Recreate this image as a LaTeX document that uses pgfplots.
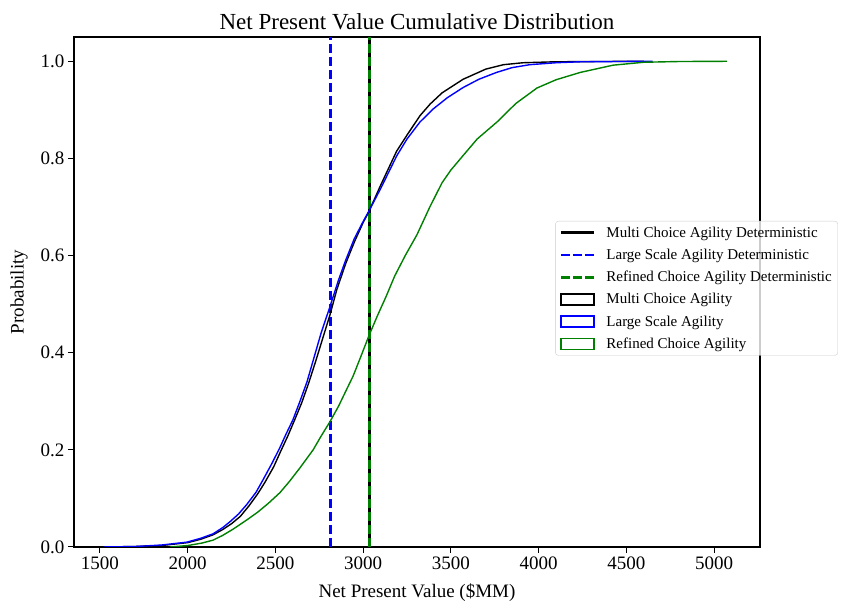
\documentclass[border=0pt]{standalone}
\usepackage{pgfplots}
\pgfplotsset{compat=1.18}
\usepackage{fontspec}
\setmainfont{Liberation Serif}
\definecolor{mplgreen}{rgb}{0,0.5,0}
\pgfplotsset{
  linelegend/.style={legend image code/.code={\draw[##1, sharp corners] (0pt,0pt) -- (33pt,0pt);}},
  dashlegend/.style={legend image code/.code={\draw[##1, sharp corners, dash pattern=on 9pt off 3pt] (0pt,0pt) -- (33pt,0pt);}},
  boxlegend/.style={legend image code/.code={\draw[##1, sharp corners, line width=1.4pt, fill=none] (0pt,-5.5pt) rectangle (33pt,5.5pt);}},
}
\begin{document}
\begin{tikzpicture}[x=1pt,y=1pt]
\path (0,0) rectangle (841,607);
\begin{axis}[
  at={(74pt,60pt)}, anchor=south west,
  width=686pt, height=510pt, scale only axis,
  xmin=1352, xmax=5262, ymin=0, ymax=1.05,
  xtick={1500,2000,...,5000},
  ytick={0,0.2,...,1.0},
  /pgf/number format/assume math mode=true,
  xticklabel style={/pgf/number format/.cd,fixed,1000 sep={}},
  yticklabel style={/pgf/number format/.cd,fixed,fixed zerofill,precision=1},
  ticklabel style={font=\fontsize{19}{22}\selectfont},
  tick align=outside, tick pos=left,
  major tick length=6pt,
  tick style={line width=1pt,black},
  axis line style={line width=1.2pt},
  title={Net Present Value Cumulative Distribution},
  title style={font=\fontsize{23}{26}\selectfont, yshift=-2pt},
  xlabel={Net Present Value (\$MM)},
  ylabel={Probability},
  label style={font=\fontsize{19}{22}\selectfont},
  xlabel style={yshift=-8pt},
  ylabel style={yshift=6pt},
  legend style={at={(rel axis cs:1.1137,0.6392)}, anchor=north east,
    font=\fontsize{15}{17}\selectfont, draw=black!20, rounded corners=3pt,
    fill=white, fill opacity=0.8, text opacity=1, draw opacity=1,
    row sep=6.3pt, inner xsep=4pt, inner ysep=3.5pt,
    /tikz/every odd column/.append style={column sep=9pt}},
  legend cell align=left,
  clip=true,
]
\addplot[black, line width=3pt, linelegend]
  coordinates {(3035,0) (3035,1.05)};
\addlegendentry{Multi Choice Agility Deterministic}
\addplot[blue, line width=2.4pt, dash pattern=on 9pt off 4pt, dashlegend]
  coordinates {(2815,0) (2815,1.05)};
\addlegendentry{Large Scale Agility Deterministic}
\addplot[mplgreen, line width=3pt, dash pattern=on 9pt off 4pt, dashlegend]
  coordinates {(3035,0) (3035,1.05)};
\addlegendentry{Refined Choice Agility Deterministic}
\addplot[black, line width=1.4pt, sharp plot, boxlegend]
  coordinates {
(1530,0) (1700,0.001) (1850,0.003) (2000,0.009) (2075,0.016) (2144,0.025)
(2200,0.036) (2250,0.048) (2300,0.063) (2350,0.085) (2400,0.110) (2440,0.133)
(2490,0.165) (2530,0.197) (2570,0.228) (2610,0.262) (2650,0.297) (2690,0.338)
(2730,0.383) (2770,0.430) (2811,0.478) (2850,0.530) (2900,0.583) (2950,0.628)
(3000,0.668) (3032,0.690) (3100,0.745) (3191,0.815) (3250,0.848) (3324,0.888)
(3382,0.912) (3450,0.935) (3570,0.963) (3700,0.984) (3800,0.993) (3912,0.997)
(4100,0.999) (4600,1.0)};
\addlegendentry{Multi Choice Agility}
\addplot[blue, line width=1.4pt, sharp plot, boxlegend]
  coordinates {
(1520,0) (1700,0.001) (1850,0.004) (1996,0.010) (2075,0.018) (2144,0.027)
(2200,0.040) (2241,0.052) (2290,0.068) (2338,0.088) (2390,0.113) (2429,0.138)
(2480,0.172) (2526,0.205) (2560,0.232) (2600,0.262) (2640,0.300) (2680,0.340)
(2720,0.390) (2760,0.440) (2811,0.495) (2860,0.550) (2900,0.590) (2950,0.635)
(3000,0.670) (3032,0.691) (3100,0.738) (3191,0.805) (3250,0.840) (3324,0.875)
(3400,0.902) (3480,0.925) (3570,0.946) (3660,0.963) (3760,0.977) (3850,0.987)
(3950,0.993) (4100,0.997) (4240,0.999) (4650,1.0)};
\addlegendentry{Large Scale Agility}
\addplot[mplgreen, line width=1.4pt, sharp plot, boxlegend]
  coordinates {
(1900,0) (2000,0.003) (2080,0.008) (2144,0.014) (2200,0.024) (2260,0.037)
(2338,0.056) (2400,0.072) (2460,0.090) (2526,0.112) (2580,0.135) (2640,0.163)
(2715,0.200) (2760,0.228) (2811,0.258) (2860,0.290) (2900,0.320) (2943,0.352)
(2990,0.395) (3032,0.434) (3080,0.475) (3130,0.515) (3180,0.558) (3240,0.600)
(3307,0.643) (3380,0.700) (3450,0.750) (3500,0.776) (3570,0.806) (3650,0.840)
(3763,0.875) (3870,0.913) (3991,0.945) (4100,0.962) (4237,0.977) (4425,0.992)
(4600,0.998) (4800,0.9995) (5075,1.0)};
\addlegendentry{Refined Choice Agility}
\end{axis}
\end{tikzpicture}
\end{document}
